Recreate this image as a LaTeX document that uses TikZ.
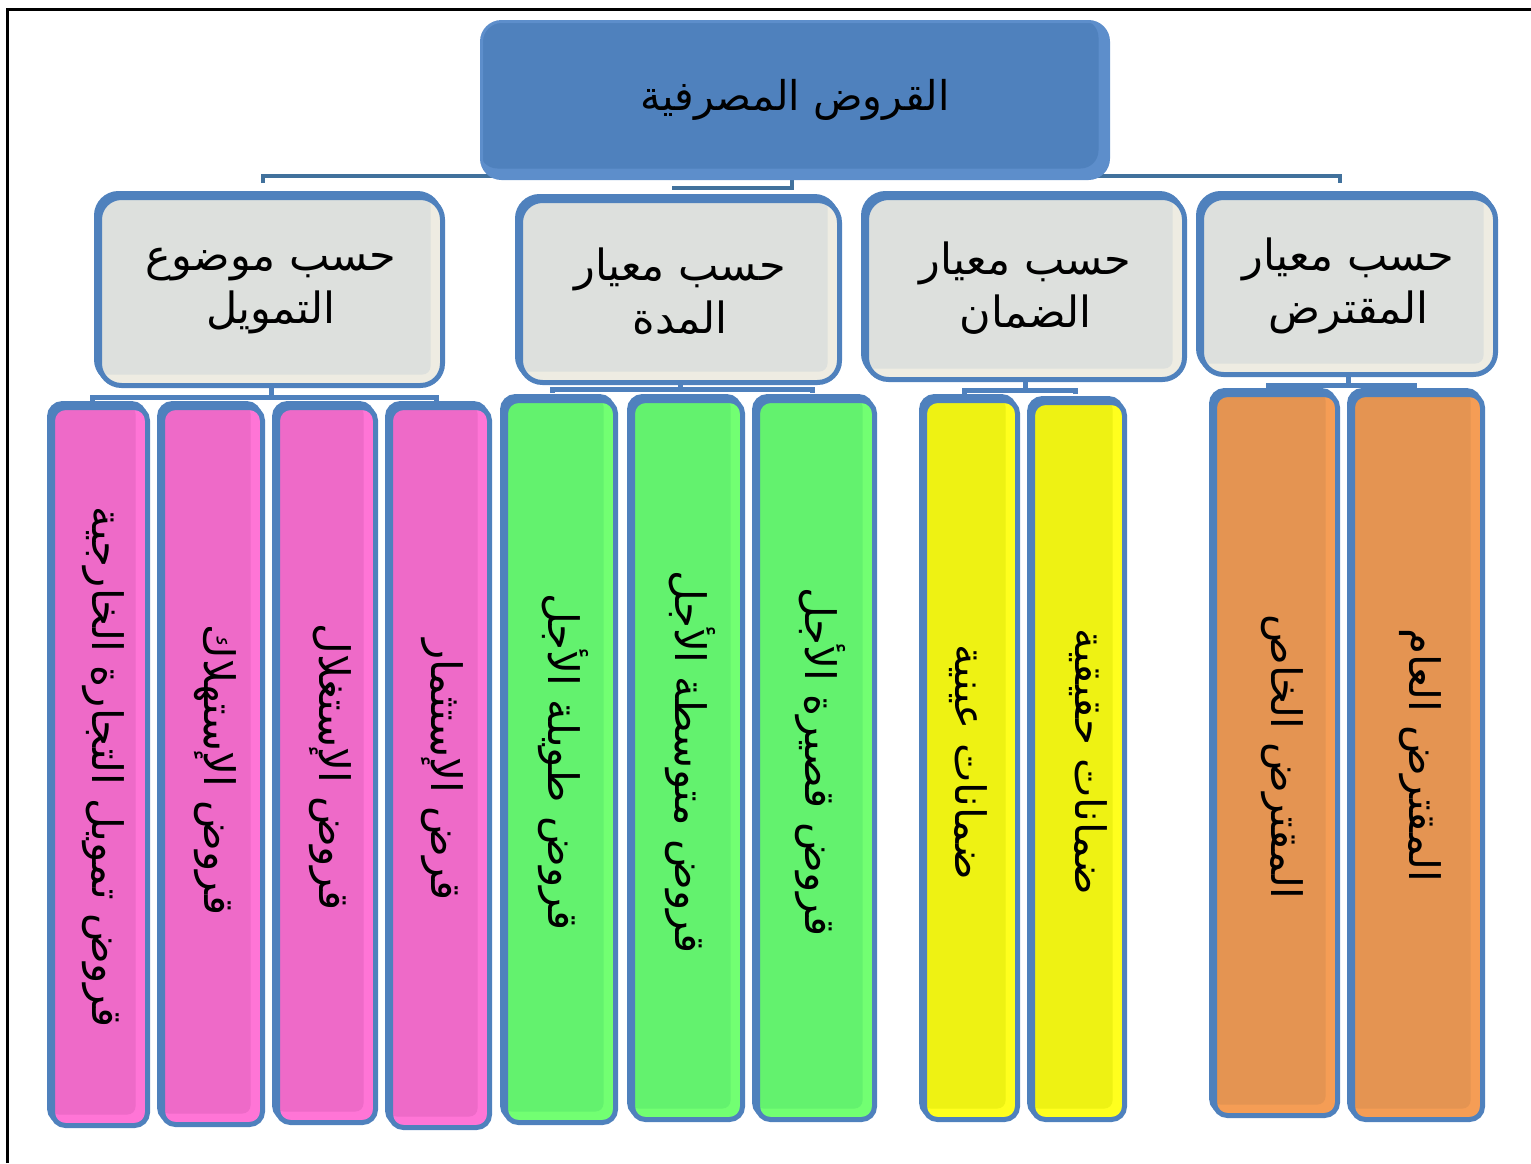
\documentclass[tikz,border=0pt]{standalone}
\usepackage{fontspec}
\newfontfamily\arabicfont[Script=Arabic]{DejaVu Sans}
\TeXXeTstate=1
\usetikzlibrary{shadows,backgrounds}
\definecolor{bord}{HTML}{4F81BD}
\definecolor{tbarc}{HTML}{41719C}
\definecolor{pinkM}{HTML}{EE6AC8}\definecolor{pinkL}{HTML}{FF75D6}
\definecolor{greenM}{HTML}{63F26E}\definecolor{greenL}{HTML}{72FF72}
\definecolor{yelM}{HTML}{EEF213}\definecolor{yelL}{HTML}{FFFF1E}
\definecolor{orM}{HTML}{E49452}\definecolor{orL}{HTML}{F59D55}
\definecolor{grayM}{HTML}{DDE0DD}\definecolor{grayL}{HTML}{EEECE2}
\definecolor{topM}{HTML}{4F81BD}\definecolor{topL}{HTML}{5D8ECB}
\newcommand\artxt[1]{{\arabicfont\beginR #1\endR}}
\tikzset{
  x=1pt, y=-1pt,
  bx/.style n args={5}{draw=bord, line width=5pt, rounded corners=#5,
    minimum width=#1, minimum height=#2, inner sep=0pt, fill=#3,
    copy shadow={shadow xshift=-3pt, shadow yshift=4pt, fill=bord, draw=bord},
    path picture={\fill[#4, rounded corners=8pt]
      ([shift={(-2pt,2pt)}]path picture bounding box.north west) rectangle
      ([shift={(-12pt,11pt)}]path picture bounding box.south east);}},
  leaf/.style n args={4}{bx={#1}{#2}{#3}{#4}{13pt}},
  cat/.style n args={2}{bx={#1}{#2}{grayL}{grayM}{22pt}, font=\fontsize{43}{53}\selectfont, align=center},
  lt/.style={rotate=-90, inner sep=0pt, font=\fontsize{42}{46}\selectfont},
  tbar/.style={draw=tbarc, line width=4pt},
  sbar/.style={draw=bord, line width=5pt},
  frame/.style={draw=black, line width=3pt}
}
\begin{document}
\begin{tikzpicture}
\useasboundingbox (0,0) rectangle (1531,1163);
\draw[frame] (7,1163) -- (7,9) -- (1531,9);

% top
\node[draw=topL, line width=3pt, rounded corners=20pt, fill=topL,
  minimum width=627pt, minimum height=157pt, inner sep=0pt,
  path picture={\fill[topM, rounded corners=18pt]
      ([shift={(-2pt,2pt)}]path picture bounding box.north west) rectangle
      ([shift={(-10pt,10pt)}]path picture bounding box.south east);},
  font=\fontsize{41}{46}\selectfont] (top) at (795,100) {\artxt{القروض المصرفية}};

% categories
\node[cat={343pt}{188pt}] (cat1) at (271,291.5) {\artxt{حسب موضوع}\\\artxt{التمويل}};
\node[cat={319pt}{182pt}] (cat2) at (680,291.5) {\artxt{حسب معيار}\\\artxt{المدة}};
\node[cat={318pt}{182pt}] (cat3) at (1025.5,288.5) {\artxt{حسب معيار}\\\artxt{الضمان}};
\node[cat={294pt}{177pt}] (cat4) at (1348.5,286) {\artxt{حسب معيار}\\\artxt{المقترض}};

% leaves
\node[leaf={95pt}{718pt}{pinkL}{pinkM}] (p1) at (100,766.5) {};
\node[leaf={100pt}{717pt}{pinkL}{pinkM}] (p2) at (212.5,766) {};
\node[leaf={98pt}{715pt}{pinkL}{pinkM}] (p3) at (326.5,765) {};
\node[leaf={99pt}{720pt}{pinkL}{pinkM}] (p4) at (440,767.5) {};
\node[leaf={110pt}{722pt}{greenL}{greenM}] (g1) at (560.5,761.5) {};
\node[leaf={110pt}{719pt}{greenL}{greenM}] (g2) at (687.5,760) {};
\node[leaf={117pt}{719pt}{greenL}{greenM}] (g3) at (816,760) {};
\node[leaf={93pt}{719pt}{yelL}{yelM}] (y1) at (971,760) {};
\node[leaf={92pt}{717pt}{yelL}{yelM}] (y2) at (1078.5,761) {};
\node[leaf={123pt}{721pt}{orL}{orM}] (o1) at (1276,755) {};
\node[leaf={130pt}{725pt}{orL}{orM}] (o2) at (1417.5,757) {};

\node[lt] (p1t) at (103,767) {\artxt{قروض تمويل التجارة الخارجية}};
\node[lt] (p2t) at (215,770) {\artxt{قروض الإستهلاك}};
\node[lt] (p3t) at (330,767) {\artxt{قروض الإستغلال}};
\node[lt] (p4t) at (442,770) {\artxt{قرض الإستثمار}};
\node[lt] (g1t) at (563,762) {\artxt{قروض طويلة الأجل}};
\node[lt] (g2t) at (690,762) {\artxt{قروض متوسطة الأجل}};
\node[lt] (g3t) at (820,762) {\artxt{قروض قصيرة الأجل}};
\node[lt] (y1t) at (968,762) {\artxt{ضمانات عينية}};
\node[lt] (y2t) at (1088,762) {\artxt{ضمانات حقيقية}};
\node[lt] (o1t) at (1282,757) {\artxt{المقترض الخاص}};
\node[lt] (o2t) at (1420,755) {\artxt{المقترض العام}};

\begin{scope}[on background layer]
  \draw[tbar] ([shift={(-8pt,12pt)}]cat1.north) -- ++(0pt,7pt) -- ([shift={(-8.5pt,19pt)}]cat4.north) -- ++(0pt,-7pt);
  \draw[tbar] ([xshift=-3pt]top.south) -- ++(0pt,-8pt) -- ++(-120pt,0pt);
  % pink bracket
  \draw[sbar] (cat1.south) -- ([yshift=-9.5pt]cat1.south);
  \draw[sbar] ([shift={(-179pt,-13pt)}]cat1.south) -- ++(0pt,3.5pt) -- ([shift={(165pt,-9.5pt)}]cat1.south) -- ++(0pt,-3.5pt);
  % green bracket
  \draw[sbar] (cat2.south) -- ([yshift=-4.5pt]cat2.south);
  \draw[sbar] ([shift={(-128pt,-7.5pt)}]cat2.south) -- ++(0pt,3pt) -- ([shift={(132pt,-4.5pt)}]cat2.south) -- ++(0pt,-3pt);
  % yellow bracket
  \draw[sbar] (cat3.south) -- ([yshift=-8.5pt]cat3.south);
  \draw[sbar] ([shift={(-61.5pt,-12pt)}]cat3.south) -- ++(0pt,3.5pt) -- ([shift={(49.5pt,-8.5pt)}]cat3.south) -- ++(0pt,-3.5pt);
  % orange bracket
  \draw[sbar] (cat4.south) -- ([yshift=-8.5pt]cat4.south);
  \draw[sbar] ([shift={(-80.5pt,-12pt)}]cat4.south) -- ++(0pt,3.5pt) -- ([shift={(65.5pt,-8.5pt)}]cat4.south) -- ++(0pt,-3.5pt);
\end{scope}
\end{tikzpicture}
\end{document}
